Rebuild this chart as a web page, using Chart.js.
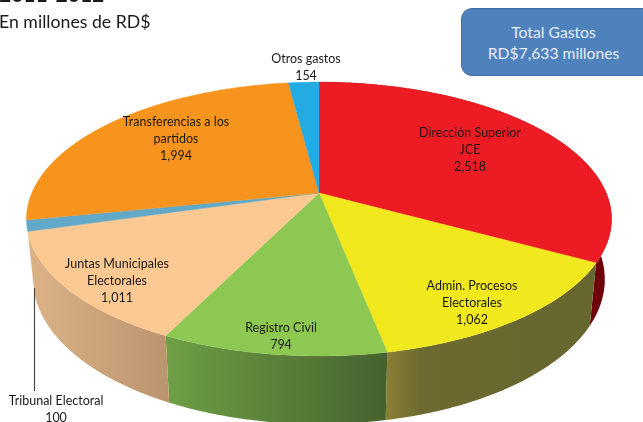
<!DOCTYPE html>
<html lang="es">
<head>
<meta charset="utf-8">
<title>Gastos JCE</title>
<script src="https://cdn.jsdelivr.net/npm/chart.js@4"></script>
<style>
  html, body { margin:0; padding:0; background:#fff; overflow:hidden; }
  #wrap { position:relative; width:643px; height:422px; overflow:hidden; font-family:Lato, "Open Sans", sans-serif; color:#1a1a1a; }
  canvas { position:absolute; left:0; top:0; }
  .head { position:absolute; left:-1px; top:-19px; font-size:21px; font-weight:700; white-space:nowrap; }
  .sub { position:absolute; left:-1px; top:11px; font-size:17.7px; white-space:nowrap; }
  .box { position:absolute; left:461px; top:8px; width:192px; height:68px; box-sizing:border-box; padding-top:13px; padding-right:7px;
         background:#4f81bd; border:1.5px solid #3f6da6; border-radius:11px; color:#e8eef6; font-size:15.7px; line-height:21px; text-align:center; }
</style>
</head>
<body>
<div id="wrap">
  <canvas id="pie" width="643" height="422"></canvas>
  <div class="head">2011-2012</div>
  <div class="sub">En millones de RD$</div>
  <div class="box">Total Gastos<br>RD$7,633 millones</div>
</div>
<script>
/* categorías y valores */
const categories = ['Dirección Superior JCE', 'Admin. Procesos Electorales', 'Registro Civil', 'Juntas Municipales Electorales', 'Tribunal Electoral', 'Transferencias a los partidos', 'Otros gastos'];
const values = [2518, 1062, 794, 1011, 100, 1994, 154];
const topColors = ['#ed1c24', '#f2e81e', '#8dc853', '#fdc993', '#62a8c8', '#f7941e', '#22ace3'];
/* lado del cilindro: paradas de color izq -> der; los de atrás no se ven */
const wallColors = [[[0, '#5a0207'], [1, '#6e0309']], [[0, '#8a8034'], [0.16, '#6c6a30'], [1, '#66662f']], [[0, '#6f9f45'], [1, '#46622f']], [[0, '#dcb387'], [1, '#bb9570']], null, null, null];
const labelLines = [['Dirección Superior', 'JCE', '2,518'], ['Admin. Procesos', 'Electorales', '1,062'], ['Registro Civil', '794'], ['Juntas Municipales', 'Electorales', '1,011'], ['Tribunal Electoral', '100'], ['Transferencias a los', 'partidos', '1,994'], ['Otros gastos', '154']];
const labelSpots = [[470, 133], [472, 286], [281, 328], [117, 264], [56, 401], [176, 122], [306, 59]];

/* perspectiva del disco: centro, radios y fuga */
const CX = 319, CY = 193, RX = 287.2, RY = 132, K = -0.19;
const WALL_S = 0.977, WALL_D0 = 59, WALL_D1 = 0.056;

function rim(a){
  const u = Math.cos(a), v = Math.sin(a), w = 1 + K * v;
  return { x: CX + RX * u / w, y: CY + RY * v / w };
}
function rimLow(a){
  const p = rim(a);
  return { x: CX + WALL_S * (p.x - CX), y: p.y + WALL_D0 + WALL_D1 * (p.y - CY) };
}
function trace(ctx, from, to, fn, first){
  const n = Math.max(2, Math.ceil(Math.abs(to - from) / 0.01));
  for (let i = 0; i <= n; i++){
    const p = fn(from + (to - from) * i / n);
    if (first && i === 0) ctx.moveTo(p.x, p.y); else ctx.lineTo(p.x, p.y);
  }
}

/* dibuja los arcos de Chart.js proyectados como disco 3D */
const disc3d = {
  id: 'disc3d',
  beforeDatasetDraw(chart){
    const ctx = chart.ctx;
    const arcs = chart.getDatasetMeta(0).data;
    ctx.save();
    arcs.forEach((arc, i) => {
      if (!wallColors[i]) return;
      const { startAngle: a, endAngle: b } = arc.getProps(['startAngle', 'endAngle'], true);
      const l = rim(a), r = rim(b);
      const x0 = Math.min(l.x, r.x), x1 = Math.max(l.x, r.x);
      const grad = ctx.createLinearGradient(x0, 0, x1, 0);
      wallColors[i].forEach(s => grad.addColorStop(s[0], s[1]));
      ctx.beginPath();
      trace(ctx, a, b, rim, true);
      trace(ctx, b, a, rimLow, false);
      ctx.closePath();
      ctx.fillStyle = grad; ctx.fill();
    });
    arcs.forEach((arc, i) => {
      const { startAngle: a, endAngle: b } = arc.getProps(['startAngle', 'endAngle'], true);
      ctx.beginPath();
      ctx.moveTo(CX, CY);
      trace(ctx, a, b, rim, false);
      ctx.closePath();
      ctx.fillStyle = topColors[i]; ctx.strokeStyle = topColors[i]; ctx.lineWidth = 0.4;
      ctx.fill(); ctx.stroke();
    });
    ctx.restore();
    return false; // ya dibujado
  },
  afterDatasetsDraw(chart){
    const ctx = chart.ctx;
    ctx.save();
    ctx.strokeStyle = '#4a4a4a'; ctx.lineWidth = 1.2;
    ctx.beginPath(); ctx.moveTo(34.5, 288); ctx.lineTo(34.5, 391); ctx.stroke();
    ctx.font = '12.5px Lato, "Open Sans", sans-serif';
    ctx.fillStyle = '#1a1a1a'; ctx.textAlign = 'center'; ctx.textBaseline = 'middle';
    labelLines.forEach((lines, i) => {
      lines.forEach((t, j) => ctx.fillText(t, labelSpots[i][0], labelSpots[i][1] + j * 17));
    });
    ctx.restore();
  }
};

new Chart(document.getElementById('pie'), {
  type: 'pie',
  data: { labels: categories, datasets: [{ data: values, backgroundColor: topColors, borderWidth: 0 }] },
  options: {
    responsive: false,
    animation: false,
    events: [],
    plugins: { legend: { display: false }, tooltip: { enabled: false } }
  },
  plugins: [disc3d]
});
</script>
</body>
</html>
